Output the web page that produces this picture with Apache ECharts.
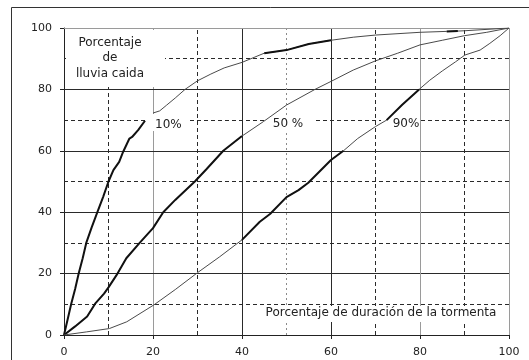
<!DOCTYPE html>
<html><head><meta charset="utf-8">
<script src="https://cdn.jsdelivr.net/npm/echarts@6/dist/echarts.min.js"></script>
<style>html,body{margin:0;padding:0;background:#fff}#c{width:529px;height:360px}</style>
</head><body><div id="c"></div>
<script>
// ---- data ----
const xTicks = [0, 20, 40, 60, 80, 100];
const yTicks = [0, 20, 40, 60, 80, 100];
const majorLines = [20, 40, 60, 80];
const minorLines = [10, 30, 50, 70, 90];

// 10% curve, first (thick) part
const c10aX = [0, 0.8, 1.6, 2.5, 3.3, 4.2, 5.0, 6.2, 7.5, 8.8, 10.0, 11.1, 12.4, 13.3, 14.7, 15.3, 16.7, 18.2];
const c10aY = [0, 5, 10, 15, 20, 25, 30, 35, 40, 45, 50, 53.7, 56.4, 59.7, 64, 64.5, 66.8, 69.8];
// 10% curve, continuation (thin) part
const c10bX = [20, 21.5, 23, 25, 27.2, 30, 33, 36, 40, 45, 50, 55, 60, 65, 70, 80, 86, 88.5, 90, 100];
const c10bY = [72.3, 73, 74.8, 77.2, 80, 82.8, 85, 87, 88.8, 91.8, 92.8, 94.8, 96, 97, 97.7, 98.6, 98.9, 99, 99.1, 100];
// 50% curve
const c50X = [0, 2.5, 5.2, 7, 9, 10, 11.8, 14, 17, 20, 22.3, 25, 29.4, 32, 35.8, 40, 44.8, 50, 56.4, 60, 65, 70, 75, 80, 85, 90, 95, 100];
const c50Y = [0, 2.8, 6, 10.2, 13.5, 15.5, 19.5, 25, 30, 34.8, 40, 44, 50, 54, 60, 64.8, 69.5, 74.9, 80, 82.6, 86.3, 89.3, 91.8, 94.5, 96, 97.5, 98.6, 100];
// 90% curve
const c90X = [0, 5, 10.2, 14.1, 20.2, 25, 30, 35, 40, 44, 46.3, 50, 52.7, 54.9, 60, 62.8, 66, 70, 72.5, 76, 79.8, 82.2, 85, 88, 90.1, 93.5, 95.7, 98, 100];
const c90Y = [0, 1, 2.1, 4.3, 9.8, 14.8, 20.3, 25.5, 31, 36.9, 39.4, 44.9, 47.2, 49.6, 57, 60, 64, 67.9, 70, 75, 80, 83, 86, 89, 91.2, 92.8, 95, 97.5, 100];

// ---- build ----
function pairs(xs, ys, a, b) {
  const out = [];
  for (let i = 0; i < xs.length; i++) {
    if (a === undefined || (xs[i] >= a && xs[i] <= b)) out.push([xs[i], ys[i]]);
  }
  return out;
}
const THIN = { color: '#4a4a4a', width: 1 };
const THICK = { color: '#111', width: 2 };
function curve(data, st) {
  return { type: 'line', data: data, symbol: 'none', smooth: false, z: 20, silent: true,
    lineStyle: { color: st.color, width: st.width }, animation: false };
}
const solidDark = { color: '#2a2a2a', width: 1, type: 'solid' };
const solidGrey = { color: '#9a9a9a', width: 1, type: 'solid' };
const dashDark = { color: '#2a2a2a', width: 1, type: [4, 3] };
const dotGrey = { color: '#8a8a8a', width: 1, type: [2, 3] };

const mlData = [];
majorLines.forEach(v => {
  mlData.push({ xAxis: v, lineStyle: (v === 20 || v === 80) ? solidGrey : solidDark });
  mlData.push({ yAxis: v, lineStyle: solidDark });
});
minorLines.forEach(v => {
  mlData.push({ xAxis: v, lineStyle: v === 50 ? dotGrey : dashDark });
  mlData.push({ yAxis: v, lineStyle: dashDark });
});
mlData.push({ xAxis: 100, lineStyle: solidGrey });
mlData.push({ yAxis: 100, lineStyle: solidGrey });

const F = '12px "DejaVu Sans"';
function box(x, y, w, h) { return { type: 'rect', z: 12, silent: true, shape: { x: x, y: y, width: w, height: h }, style: { fill: '#fff' } }; }
function txt(s, x, y, align) { return { type: 'text', z: 13, silent: true, x: x, y: y, style: { text: s, font: F, fill: '#222', textAlign: align || 'center', textVerticalAlign: 'middle' } }; }

const chart = echarts.init(document.getElementById('c'), null, { renderer: 'canvas' });
chart.setOption({
  animation: false,
  backgroundColor: '#fff',
  grid: { left: 64, right: 20, top: 28, bottom: 25 },
  xAxis: {
    type: 'value', min: 0, max: 100, interval: 20,
    axisLine: { show: true, lineStyle: { color: '#222', width: 1 } },
    axisTick: { show: true, length: 4, lineStyle: { color: '#222' } },
    axisLabel: { fontSize: 11, fontFamily: 'DejaVu Sans', color: '#222', margin: 12,
      formatter: v => xTicks.includes(v) ? String(v) : '' },
    splitLine: { show: false }
  },
  yAxis: {
    type: 'value', min: 0, max: 100, interval: 20,
    axisLine: { show: true, lineStyle: { color: '#222', width: 1 } },
    axisTick: { show: true, length: 4, lineStyle: { color: '#222' } },
    axisLabel: { fontSize: 11, fontFamily: 'DejaVu Sans', color: '#222', margin: 12,
      formatter: v => yTicks.includes(v) ? String(v) : '' },
    splitLine: { show: false }
  },
  graphic: [
    { type: 'rect', z: 0, silent: true, shape: { x: 11.5, y: 7.5, width: 700, height: 500 }, style: { fill: 'none', stroke: '#333', lineWidth: 1 } },
    box(66, 30, 99, 57),
    box(147, 114, 40, 17),
    box(264, 117, 50, 14),
    box(381, 117, 37, 14),
    box(256, 306, 250, 16),
    txt('Porcentaje', 110, 43),
    txt('de', 110, 58),
    txt('lluvia caida', 110, 74),
    txt('10%', 155, 125, 'left'),
    txt('50 %', 288, 124),
    txt('90%', 406, 124),
    txt('Porcentaje de duración de la tormenta', 381, 313)
  ],
  series: [
    { type: 'line', data: [[0, 0]], symbol: 'none', z: 1, silent: true, lineStyle: { opacity: 0 },
      markLine: { z: 1, silent: true, symbol: ['none', 'none'], label: { show: false }, animation: false, data: mlData } },
    curve(pairs(c10aX, c10aY), THICK),
    curve(pairs(c10bX, c10bY), THIN),
    curve(pairs(c10bX, c10bY, 45, 60), THICK),
    curve(pairs(c10bX, c10bY, 86, 88.5), THICK),
    curve(pairs(c50X, c50Y), THIN),
    curve(pairs(c50X, c50Y, 0, 40), THICK),
    curve(pairs(c90X, c90Y), THIN),
    curve(pairs(c90X, c90Y, 40, 62.8), THICK),
    curve(pairs(c90X, c90Y, 72.5, 79.8), THICK)
  ]
});
</script></body></html>
